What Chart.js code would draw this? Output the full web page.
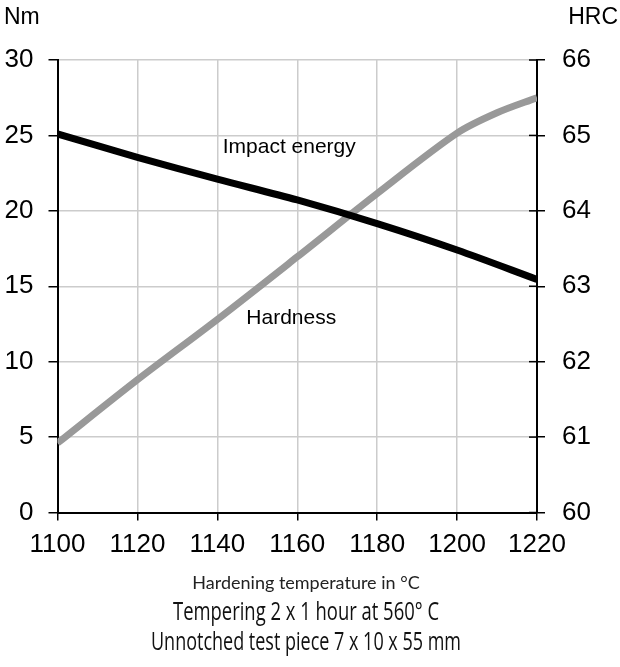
<!DOCTYPE html>
<html lang="en">
<head>
    <meta charset="UTF-8">
    <title>Impact energy and hardness vs hardening temperature</title>
    <script src="https://cdn.jsdelivr.net/npm/chart.js"></script>
    <style>
        body { margin: 0; background: #fff; }
        .wrap { position: relative; width: 620px; height: 667px; }
    </style>
</head>
<body>
    <div class="wrap"><canvas id="chart"></canvas></div>

    <script>
        // Data
        const temps = [1100, 1120, 1140, 1160, 1180, 1200, 1220];
        const impactNm = [25.1, 23.55, 22.1, 20.72, 19.15, 17.4, 15.45];
        const hardTemps = [1100, 1120, 1140, 1160, 1180, 1200, 1210, 1220];
        const hardnessHRC = [60.92, 61.76, 62.56, 63.39, 64.23, 65.03, 65.3, 65.5];
        const nmTicks = [0, 5, 10, 15, 20, 25, 30];
        const hrcTicks = [60, 61, 62, 63, 64, 65, 66];

        const tickFont = { family: "'Liberation Sans', Arial, sans-serif", size: 26 };

        // text labels, titles, inner right ticks and notes below the axis
        const labelsPlugin = {
            id: 'labels',
            afterDraw(chart) {
                const ctx = chart.ctx;
                const x = chart.scales.x, y = chart.scales.y, y1 = chart.scales.y1;
                const area = chart.chartArea;
                ctx.save();

                // right axis ticks also reach a little inside the plot
                ctx.strokeStyle = '#000';
                ctx.lineWidth = 1.5;
                hrcTicks.forEach(v => {
                    const py = y1.getPixelForValue(v);
                    ctx.beginPath();
                    ctx.moveTo(area.right - 8, py);
                    ctx.lineTo(area.right, py);
                    ctx.stroke();
                });

                ctx.fillStyle = '#000';
                ctx.textBaseline = 'middle';
                ctx.font = "23px 'Liberation Sans', Arial, sans-serif";
                ctx.textAlign = 'left';
                ctx.fillText('Nm', 4, 18);
                ctx.textAlign = 'right';
                ctx.fillText('HRC', 618, 18);

                ctx.textAlign = 'center';
                ctx.font = "21px 'Liberation Sans', Arial, sans-serif";
                ctx.fillText('Impact energy', x.getPixelForValue(1158), y.getPixelForValue(24.25));
                ctx.fillText('Hardness', x.getPixelForValue(1158.5), y.getPixelForValue(12.9));

                const cx = 306;
                ctx.fillStyle = '#222';
                ctx.font = "18px Lato, 'Noto Sans', sans-serif";
                ctx.fillText('Hardening temperature in °C', cx, 583, 256);
                ctx.fillStyle = '#111';
                ctx.font = "26px 'Open Sans', 'Noto Sans', sans-serif";
                ctx.fillText('Tempering 2 x 1 hour at 560° C', cx, 613, 266);
                ctx.fillText('Unnotched test piece 7 x 10 x 55 mm', cx, 643, 310);
                ctx.restore();
            }
        };

        new Chart(document.getElementById('chart'), {
            type: 'line',
            data: {
                datasets: [{
                    label: 'Impact energy',
                    data: temps.map((t, i) => ({ x: t, y: impactNm[i] })),
                    borderColor: '#000',
                    borderWidth: 7,
                    pointRadius: 0,
                    tension: 0.3,
                    yAxisID: 'y'
                }, {
                    label: 'Hardness',
                    data: hardTemps.map((t, i) => ({ x: t, y: hardnessHRC[i] })),
                    borderColor: '#999',
                    borderWidth: 7,
                    pointRadius: 0,
                    tension: 0.3,
                    yAxisID: 'y1'
                }]
            },
            options: {
                responsive: true,
                maintainAspectRatio: false,
                animation: false,
                layout: { padding: { top: 60, left: 0, right: 0, bottom: 0 } },
                plugins: { legend: { display: false }, tooltip: { enabled: false } },
                scales: {
                    x: {
                        type: 'linear',
                        min: 1100, max: 1220,
                        ticks: { stepSize: 20, color: '#000', font: tickFont, padding: 9,
                                 callback: v => String(v) },
                        grid: { color: '#cccccc', lineWidth: 1.5, tickLength: 8, tickColor: '#000' },
                        border: { color: '#000', width: 2 },
                        afterFit: s => { s.height = 154.5; }
                    },
                    y: {
                        position: 'left',
                        min: 0, max: 30,
                        afterBuildTicks: s => { s.ticks = nmTicks.map(v => ({ value: v })); },
                        ticks: { color: '#000', font: tickFont, padding: 15 },
                        grid: { color: '#cccccc', lineWidth: 1.5, tickLength: 9, tickColor: '#000' },
                        border: { color: '#000', width: 2 },
                        afterFit: s => { s.width = 57.5; }
                    },
                    y1: {
                        position: 'right',
                        min: 60, max: 66,
                        afterBuildTicks: s => { s.ticks = hrcTicks.map(v => ({ value: v })); },
                        ticks: { color: '#000', font: tickFont, padding: 17 },
                        grid: { drawOnChartArea: false, lineWidth: 1.5, tickLength: 8, tickColor: '#000' },
                        border: { color: '#000', width: 2 },
                        afterFit: s => { s.width = 83; }
                    }
                }
            },
            plugins: [labelsPlugin]
        });
    </script>
</body>
</html>
